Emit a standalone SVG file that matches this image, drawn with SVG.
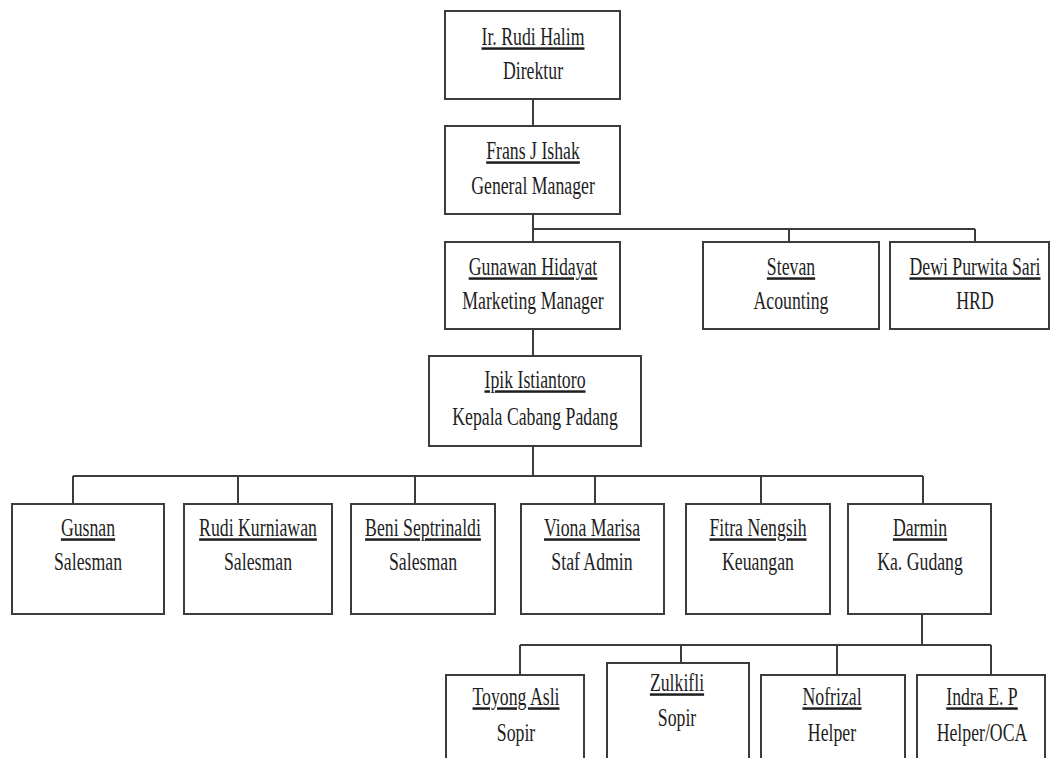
<svg xmlns="http://www.w3.org/2000/svg" width="1056" height="758" viewBox="0 0 1056 758">
  <style>
    .box { fill: #ffffff; stroke: #3c3c3c; stroke-width: 2; }
    .conn { fill: none; stroke: #3c3c3c; stroke-width: 2; }
    text { font-family: "Liberation Serif", "Times New Roman", serif; font-size: 25px; fill: #1e1e1e; text-anchor: middle; }
    .name { text-decoration: underline; }
  </style>
  <rect x="0" y="0" width="1056" height="758" fill="#ffffff"/>

  <g id="connectors">
    <path class="conn" d="M533,99 V126"/>
    <path class="conn" d="M533,214 V242"/>
    <path class="conn" d="M533,229 H975 M789,229 V242 M975,229 V242"/>
    <path class="conn" d="M533,329 V356"/>
    <path class="conn" d="M533,446 V476"/>
    <path class="conn" d="M73,476 H923 M73,476 V504 M238,476 V504 M415,476 V504 M595,476 V504 M761,476 V504 M923,476 V504"/>
    <path class="conn" d="M922,614 V645"/>
    <path class="conn" d="M520,645 H991 M520,645 V675 M681,645 V663 M837,645 V675 M991,645 V675"/>
  </g>

  <g id="n-direktur">
    <rect class="box" x="445" y="11" width="175" height="88"/>
    <text class="name" transform="translate(533,45) scale(0.71,1)">Ir. Rudi Halim</text>
    <text transform="translate(533,79) scale(0.71,1)">Direktur</text>
  </g>
  <g id="n-gm">
    <rect class="box" x="445" y="126" width="175" height="88"/>
    <text class="name" transform="translate(533,159) scale(0.71,1)">Frans J Ishak</text>
    <text transform="translate(533,194) scale(0.71,1)">General Manager</text>
  </g>
  <g id="n-marketing">
    <rect class="box" x="445" y="242" width="175" height="87"/>
    <text class="name" transform="translate(533,275) scale(0.71,1)">Gunawan Hidayat</text>
    <text transform="translate(533,309) scale(0.71,1)">Marketing Manager</text>
  </g>
  <g id="n-acounting">
    <rect class="box" x="703" y="242" width="176" height="87"/>
    <text class="name" transform="translate(791,275) scale(0.71,1)">Stevan</text>
    <text transform="translate(791,309) scale(0.71,1)">Acounting</text>
  </g>
  <g id="n-hrd">
    <rect class="box" x="890" y="242" width="159" height="87"/>
    <text class="name" transform="translate(975,275) scale(0.71,1)">Dewi Purwita Sari</text>
    <text transform="translate(975,309) scale(0.71,1)">HRD</text>
  </g>
  <g id="n-kacab">
    <rect class="box" x="429" y="356" width="212" height="90"/>
    <text class="name" transform="translate(535,388) scale(0.71,1)">Ipik Istiantoro</text>
    <text transform="translate(535,425) scale(0.71,1)">Kepala Cabang Padang</text>
  </g>

  <g id="n-gusnan">
    <rect class="box" x="12" y="504" width="152" height="110"/>
    <text class="name" transform="translate(88,536) scale(0.71,1)">Gusnan</text>
    <text transform="translate(88,570) scale(0.71,1)">Salesman</text>
  </g>
  <g id="n-rudi">
    <rect class="box" x="184" y="504" width="148" height="110"/>
    <text class="name" transform="translate(258,536) scale(0.71,1)">Rudi Kurniawan</text>
    <text transform="translate(258,570) scale(0.71,1)">Salesman</text>
  </g>
  <g id="n-beni">
    <rect class="box" x="351" y="504" width="144" height="110"/>
    <text class="name" transform="translate(423,536) scale(0.71,1)">Beni Septrinaldi</text>
    <text transform="translate(423,570) scale(0.71,1)">Salesman</text>
  </g>
  <g id="n-viona">
    <rect class="box" x="521" y="504" width="143" height="110"/>
    <text class="name" transform="translate(592,536) scale(0.71,1)">Viona Marisa</text>
    <text transform="translate(592,570) scale(0.71,1)">Staf Admin</text>
  </g>
  <g id="n-fitra">
    <rect class="box" x="686" y="504" width="144" height="110"/>
    <text class="name" transform="translate(758,536) scale(0.71,1)">Fitra Nengsih</text>
    <text transform="translate(758,570) scale(0.71,1)">Keuangan</text>
  </g>
  <g id="n-darmin">
    <rect class="box" x="848" y="504" width="143" height="110"/>
    <text class="name" transform="translate(920,536) scale(0.71,1)">Darmin</text>
    <text transform="translate(920,570) scale(0.71,1)">Ka. Gudang</text>
  </g>

  <g id="n-toyong">
    <rect class="box" x="446" y="675" width="138" height="110"/>
    <text class="name" transform="translate(516,705) scale(0.71,1)">Toyong Asli</text>
    <text transform="translate(516,741) scale(0.71,1)">Sopir</text>
  </g>
  <g id="n-zulkifli">
    <rect class="box" x="607" y="663" width="142" height="120"/>
    <text class="name" transform="translate(677,691) scale(0.71,1)">Zulkifli</text>
    <text transform="translate(677,726) scale(0.71,1)">Sopir</text>
  </g>
  <g id="n-nofrizal">
    <rect class="box" x="761" y="675" width="144" height="110"/>
    <text class="name" transform="translate(832,705) scale(0.71,1)">Nofrizal</text>
    <text transform="translate(832,741) scale(0.71,1)">Helper</text>
  </g>
  <g id="n-indra">
    <rect class="box" x="917" y="675" width="128" height="110"/>
    <text class="name" transform="translate(982,705) scale(0.71,1)">Indra E. P</text>
    <text transform="translate(982,741) scale(0.71,1)">Helper/OCA</text>
  </g>
</svg>
